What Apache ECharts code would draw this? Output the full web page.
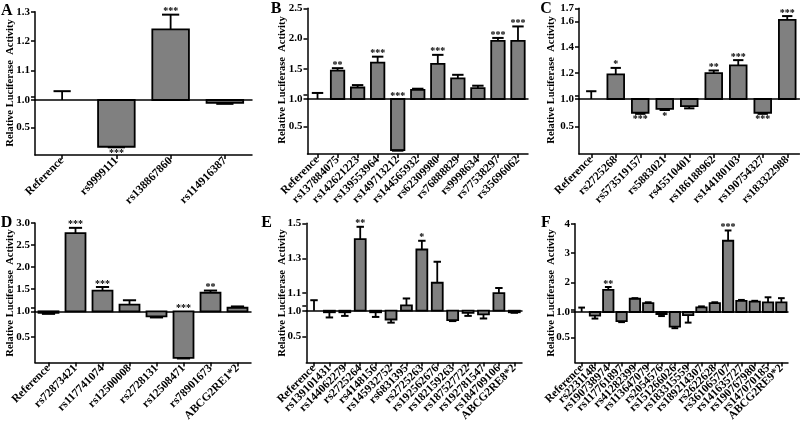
<!DOCTYPE html>
<html>
<head>
<meta charset="utf-8">
<script src="https://cdn.jsdelivr.net/npm/echarts@6/dist/echarts.min.js"></script>
<style>html,body{margin:0;padding:0;background:#fff;}#c{width:800px;height:424px;}</style>
</head>
<body>
<div id="c"></div>
<script>
// ---------- DATA ----------
const catsA = ['Reference','rs9999111','rs138867860','rs114916387'];
const valA  = [1.00, 0.15, 1.24, 0.95];
const errA  = [0.03, 0.01, 0.05, 0.02];
const sigA  = ['', '***', '***', ''];
const ticksUpA = [1.1, 1.2, 1.3];

const catsB = ['Reference','rs137884075','rs142621223','rs139553964','rs149713212','rs144565932','rs62309980','rs76888829','rs9998634','rs77538297','rs35696062'];
const valB  = [1.00, 1.47, 1.19, 1.60, 0.07, 1.15, 1.58, 1.34, 1.18, 1.96, 1.96];
const errB  = [0.10, 0.04, 0.04, 0.10, 0.01, 0.02, 0.15, 0.06, 0.04, 0.05, 0.24];
const sigB  = ['', '**', '', '***', '***', '', '***', '', '', '***', '***'];
const ticksUpB = [1.5, 2.0, 2.5];

const catsC = ['Reference','rs2725268','rs573519157','rs5883021','rs45510401','rs186188962','rs144180103','rs190754327','rs183322988'];
const valC  = [1.00, 1.19, 0.75, 0.82, 0.87, 1.20, 1.26, 0.75, 1.61];
const errC  = [0.06, 0.05, 0.02, 0.02, 0.04, 0.02, 0.04, 0.02, 0.03];
const sigC  = ['', '*', '***', '*', '', '**', '***', '***', '***'];
const ticksUpC = [1.2, 1.4, 1.6, 1.7];

const catsD = ['Reference','rs72873421','rs117741074','rs12500008','rs2728131','rs12508471','rs78901673','ABCG2RE1*2'];
const valD  = [0.97, 2.77, 1.47, 1.15, 0.90, 0.09, 1.42, 1.08];
const errD  = [0.02, 0.12, 0.08, 0.10, 0.02, 0.01, 0.05, 0.03];
const sigD  = ['', '***', '***', '', '', '***', '**', ''];
const ticksUpD = [1.5, 2.0, 2.5, 3.0];

const catsE = ['Reference','rs139101431','rs144062279','rs2725264','rs4148156','rs145932752','rs6831395','rs2725263','rs192562676','rs182159263','rs187527722','rs192781547','rs184709106','ABCG2RE8*2'];
const valE  = [1.00, 0.97, 0.97, 1.41, 0.97, 0.83, 1.03, 1.35, 1.16, 0.82, 0.96, 0.93, 1.10, 0.97];
const errE  = [0.06, 0.10, 0.07, 0.07, 0.09, 0.06, 0.04, 0.05, 0.12, 0.02, 0.06, 0.08, 0.03, 0.01];
const sigE  = ['', '', '', '**', '', '', '', '*', '', '', '', '', '', ''];
const ticksUpE = [1.1, 1.3, 1.5];

const catsF = ['Reference','rs2231148','rs190738974','rs117761897','rs41282399','rs113647079','rs2054576','rs151266026','rs183315559','rs189214307','rs2622628','rs361065707','rs141635727','rs190767980','rs147070185','ABCG2RE9*2'];
const valF  = [1.00, 0.93, 1.75, 0.82, 1.45, 1.30, 0.96, 0.71, 0.94, 1.16, 1.30, 3.42, 1.38, 1.35, 1.33, 1.33];
const errF  = [0.15, 0.06, 0.10, 0.02, 0.02, 0.03, 0.04, 0.03, 0.15, 0.03, 0.03, 0.35, 0.03, 0.03, 0.17, 0.14];
const sigF  = ['', '', '**', '', '', '', '', '', '', '', '', '***', '', '', '', ''];
const ticksUpF = [2, 3, 4];

const ticksLow = [0.5, 1.0];
const yName = 'Relative Luciferase  Activity';

// ---------- LAYOUT / STYLE ----------
const FONT = '"Liberation Serif","Times New Roman",serif';
const panels = [
  {id:'A', cats:catsA, val:valA, err:errA, sig:sigA, up:ticksUpA, upMax:1.3, dec:1, brk:1.01,
   left:35, right:252, top:11.7, mid:100, bottom:155, bar:0.675, cap:0.47, lx:6.7, ly:10.5, nx:10, ny:83},
  {id:'B', cats:catsB, val:valB, err:errB, sig:sigB, up:ticksUpB, upMax:2.5, dec:1, brk:1.066,
   left:307.5, right:528, top:8.3, mid:99, bottom:154, bar:0.67, cap:0.85, lx:276, ly:8.5, nx:282.5, ny:80},
  {id:'C', cats:catsC, val:valC, err:errC, sig:sigC, up:ticksUpC, upMax:1.7, dec:1, brk:1.023,
   left:579, right:799.5, top:8.3, mid:99, bottom:154, bar:0.68, cap:0.62, lx:546, ly:8.5, nx:551, ny:80},
  {id:'D', cats:catsD, val:valD, err:errD, sig:sigD, up:ticksUpD, upMax:3.0, dec:1, brk:1.08,
   left:35, right:251, top:223, mid:311.3, bottom:366, bar:0.74, cap:0.66, lx:6.5, ly:223, nx:10, ny:293},
  {id:'E', cats:catsE, val:valE, err:errE, sig:sigE, up:ticksUpE, upMax:1.5, dec:1, brk:1.029,
   left:306.3, right:522, top:223.3, mid:310.7, bottom:366, bar:0.71, cap:0.68, lx:266.5, ly:223, nx:282, ny:293},
  {id:'F', cats:catsF, val:valF, err:errF, sig:sigF, up:ticksUpF, upMax:4, dec:0, brk:1.085,
   left:575, right:788, top:223.7, mid:312, bottom:366, bar:0.78, cap:0.65, lx:546, ly:223, nx:551, ny:293}
];

const BLACK = '#000';
const FILL = '#808080';

function upperRenderer(P) {
  return function (params, api) {
    const i = params.dataIndex;
    const v = P.val[i], e = P.err[i];
    if (v < 1) return null;
    const bw = api.size([1, 0])[0] * P.bar;
    const base = api.coord([i, 1]);
    const top = api.coord([i, v]);
    const eTop = api.coord([i, v + e]);
    const cx = base[0];
    const cw = bw * P.cap;
    const ch = [];
    if (v > 1) ch.push({type:'rect', shape:{x:cx - bw/2, y:top[1], width:bw, height:base[1] - top[1]},
      style:{fill:FILL, stroke:BLACK, lineWidth:1.8}});
    ch.push({type:'line', shape:{x1:cx, y1:top[1], x2:cx, y2:eTop[1]}, style:{stroke:BLACK, lineWidth:1.8}});
    ch.push({type:'line', shape:{x1:cx - cw/2, y1:eTop[1], x2:cx + cw/2, y2:eTop[1]}, style:{stroke:BLACK, lineWidth:2}});
    if (P.sig[i]) ch.push({type:'text', x:cx, y:eTop[1] - 3,
      style:{text:P.sig[i], font:'bold 10px ' + FONT, align:'center', verticalAlign:'middle', fill:BLACK}});
    return {type:'group', children:ch};
  };
}
function lowerRenderer(P) {
  return function (params, api) {
    const i = params.dataIndex;
    const v = P.val[i], e = P.err[i];
    if (v >= 1) return null;
    const bw = api.size([1, 0])[0] * P.bar;
    const base = api.coord([i, 1]);
    const bot = api.coord([i, v]);
    const eBot = api.coord([i, v - e]);
    const cx = base[0];
    const cw = bw * P.cap;
    const ch = [];
    ch.push({type:'rect', shape:{x:cx - bw/2, y:base[1], width:bw, height:bot[1] - base[1]},
      style:{fill:FILL, stroke:BLACK, lineWidth:1.8}});
    ch.push({type:'line', shape:{x1:cx, y1:bot[1], x2:cx, y2:eBot[1]}, style:{stroke:BLACK, lineWidth:1.8}});
    ch.push({type:'line', shape:{x1:cx - cw/2, y1:eBot[1], x2:cx + cw/2, y2:eBot[1]}, style:{stroke:BLACK, lineWidth:2}});
    if (P.sig[i]) {
      const above = (v - e) < 0.12;
      ch.push({type:'text', x:cx, y: above ? base[1] - 3 : eBot[1] + 6,
        style:{text:P.sig[i], font:'bold 10px ' + FONT, align:'center', verticalAlign:'middle', fill:BLACK}});
    }
    return {type:'group', children:ch};
  };
}

const grid = [], xAxis = [], yAxis = [], series = [], graphic = [];
const axisLine = {show:true, onZero:false, lineStyle:{color:BLACK, width:1.5}};
const labelStyle = {fontFamily:FONT, fontWeight:'bold', color:BLACK};

panels.forEach(function (P, k) {
  const w = P.right - P.left;
  grid.push({left:P.left, top:P.top, width:w, height:P.mid - P.top});
  grid.push({left:P.left, top:P.mid, width:w, height:P.bottom - P.mid});
  xAxis.push({gridIndex:2*k, type:'category', data:P.cats, axisLine:axisLine,
    axisTick:{show:false}, axisLabel:{show:false}});
  xAxis.push({gridIndex:2*k+1, type:'category', data:P.cats, axisLine:axisLine,
    axisTick:{show:true, alignWithLabel:true, length:4, lineStyle:{color:BLACK, width:1.5}},
    axisLabel:Object.assign({rotate:45, interval:0, margin:4, fontSize:11.5}, labelStyle)});
  yAxis.push({gridIndex:2*k, type:'value', min:1, max:P.upMax, splitLine:{show:false},
    axisLine:axisLine,
    axisTick:{show:true, customValues:[P.brk].concat(P.up), length:4, lineStyle:{color:BLACK, width:1.5}},
    axisLabel:Object.assign({customValues:P.up, margin:5, fontSize:11,
      formatter:(function(d){return function(v){return Number(v).toFixed(d);};})(P.dec)}, labelStyle)});
  yAxis.push({gridIndex:2*k+1, type:'value', min:0, max:1, splitLine:{show:false},
    axisLine:axisLine,
    axisTick:{show:true, customValues:ticksLow, length:4, lineStyle:{color:BLACK, width:1.5}},
    axisLabel:Object.assign({customValues:ticksLow, margin:5, fontSize:11,
      formatter:function(v){return Number(v).toFixed(1);}}, labelStyle)});
  const data = P.val.map(function (v, i) { return [i, v, P.err[i]]; });
  series.push({type:'custom', xAxisIndex:2*k, yAxisIndex:2*k, renderItem:upperRenderer(P), data:data, clip:false, silent:true});
  series.push({type:'custom', xAxisIndex:2*k+1, yAxisIndex:2*k+1, renderItem:lowerRenderer(P), data:data, clip:false, silent:true});
  graphic.push({type:'text', x:P.lx, y:P.ly, style:{text:P.id, font:'bold 16px ' + FONT, align:'center', verticalAlign:'middle', fill:BLACK}});
  graphic.push({type:'text', x:P.nx, y:P.ny, rotation:Math.PI/2,
    style:{text:yName, font:'bold 10.5px ' + FONT, align:'center', verticalAlign:'middle', fill:BLACK}});
});

const chart = echarts.init(document.getElementById('c'), null, {renderer:'canvas'});
chart.setOption({animation:false, backgroundColor:'#fff', grid:grid, xAxis:xAxis, yAxis:yAxis, series:series, graphic:graphic});
</script>
</body>
</html>
